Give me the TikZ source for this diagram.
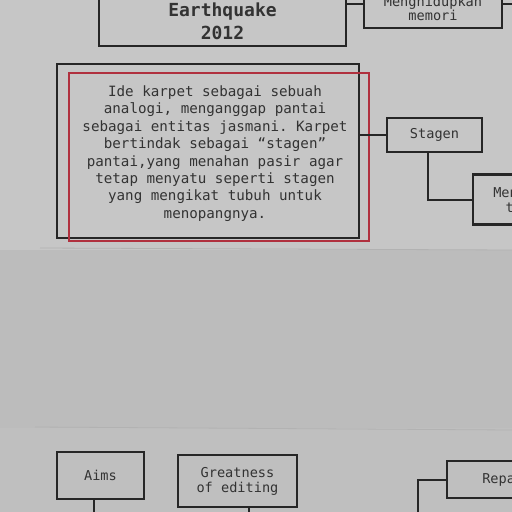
\documentclass[tikz,border=0pt]{standalone}
\usepackage{fontspec}
\setmonofont{DejaVu Sans Mono}
\definecolor{sheet}{HTML}{C6C6C6}
\definecolor{gap}{HTML}{BCBCBC}
\definecolor{sheettwo}{HTML}{BFBFBF}
\definecolor{ink}{HTML}{262626}
\definecolor{inktext}{HTML}{333333}
\definecolor{marker}{HTML}{B0303E}
\begin{document}
\begin{tikzpicture}[x=1pt,y=-1pt,
  box/.style={draw=ink,line width=2.8pt,rectangle,inner sep=0pt,align=center,
    text=inktext,font=\ttfamily\fontsize{13.6}{15}\selectfont},
  link/.style={draw=ink,line width=2pt},
  pageedge/.style={draw=black!30,line width=0.8pt}]
\useasboundingbox (0,0) rectangle (512,512);
\clip (0,0) rectangle (512,512);

% paper sheets
\fill[sheet] (0,0) rectangle (512,250);
\fill[gap] (0,250) rectangle (512,428);
\fill[sheettwo] (0,428) rectangle (512,512);
\draw[pageedge] (40,248) -- (512,250);
\draw[pageedge] (35,427) -- (512,430);

% upper sheet
\node[box,minimum width=247pt,minimum height=50pt,
  font=\ttfamily\bfseries\fontsize{18}{23}\selectfont] (eq) at (222.5,21) {Earthquake\\2012};
\node[box,minimum width=138pt,minimum height=40pt,
  font=\ttfamily\fontsize{13.6}{14}\selectfont] (mem) at (433,8) {Menghidupkan\\memori};
\coordinate (memout) at (512,4);

\node[box,minimum width=302pt,minimum height=174pt] (idea) at (208,151) {};
\node[draw=marker,line width=2.4pt,rectangle,inner sep=0pt,
  minimum width=300pt,minimum height=168pt] (frame) at (219,157) {};
\node[align=center,text=inktext,inner sep=0pt,
  font=\ttfamily\fontsize{14.2}{17.4}\selectfont] (txt) at (215,153.5)
  {Ide karpet sebagai sebuah\\analogi, menganggap pantai\\sebagai entitas jasmani. Karpet\\bertindak sebagai “stagen”\\pantai,yang menahan pasir agar\\tetap menyatu seperti stagen\\yang mengikat tubuh untuk\\menopangnya.};

\node[box,minimum width=95pt,minimum height=34pt] (stg) at (434.5,135) {Stagen};
\node[box,minimum width=106pt,minimum height=50pt] (me) at (526,199.5) {Mengikat\\tubuh};

\draw[link] (eq.east |- memout) -- (mem.west |- memout);
\draw[link] (mem.east |- memout) -- (memout);
\draw[link] (idea.east |- stg.west) -- (stg.west);
\draw[link] ([xshift=-6.5pt]stg.south) |- (me.west);

% lower sheet
\node[box,minimum width=87pt,minimum height=47pt] (aims) at (100.5,475.5) {Aims};
\node[box,minimum width=119pt,minimum height=52pt] (great) at (237.5,481) {Greatness\\of editing};
\node[box,minimum width=136pt,minimum height=37pt] (repa) at (515,479.5) {Reparasi};
\coordinate (aimsout) at (94,512);
\coordinate (greatout) at (249,512);
\coordinate (repaout) at (418,512);
\draw[link] (aimsout |- aims.south) -- (aimsout);
\draw[link] (greatout |- great.south) -- (greatout);
\draw[link] (repa.west) -| (repaout);
\end{tikzpicture}
\end{document}
